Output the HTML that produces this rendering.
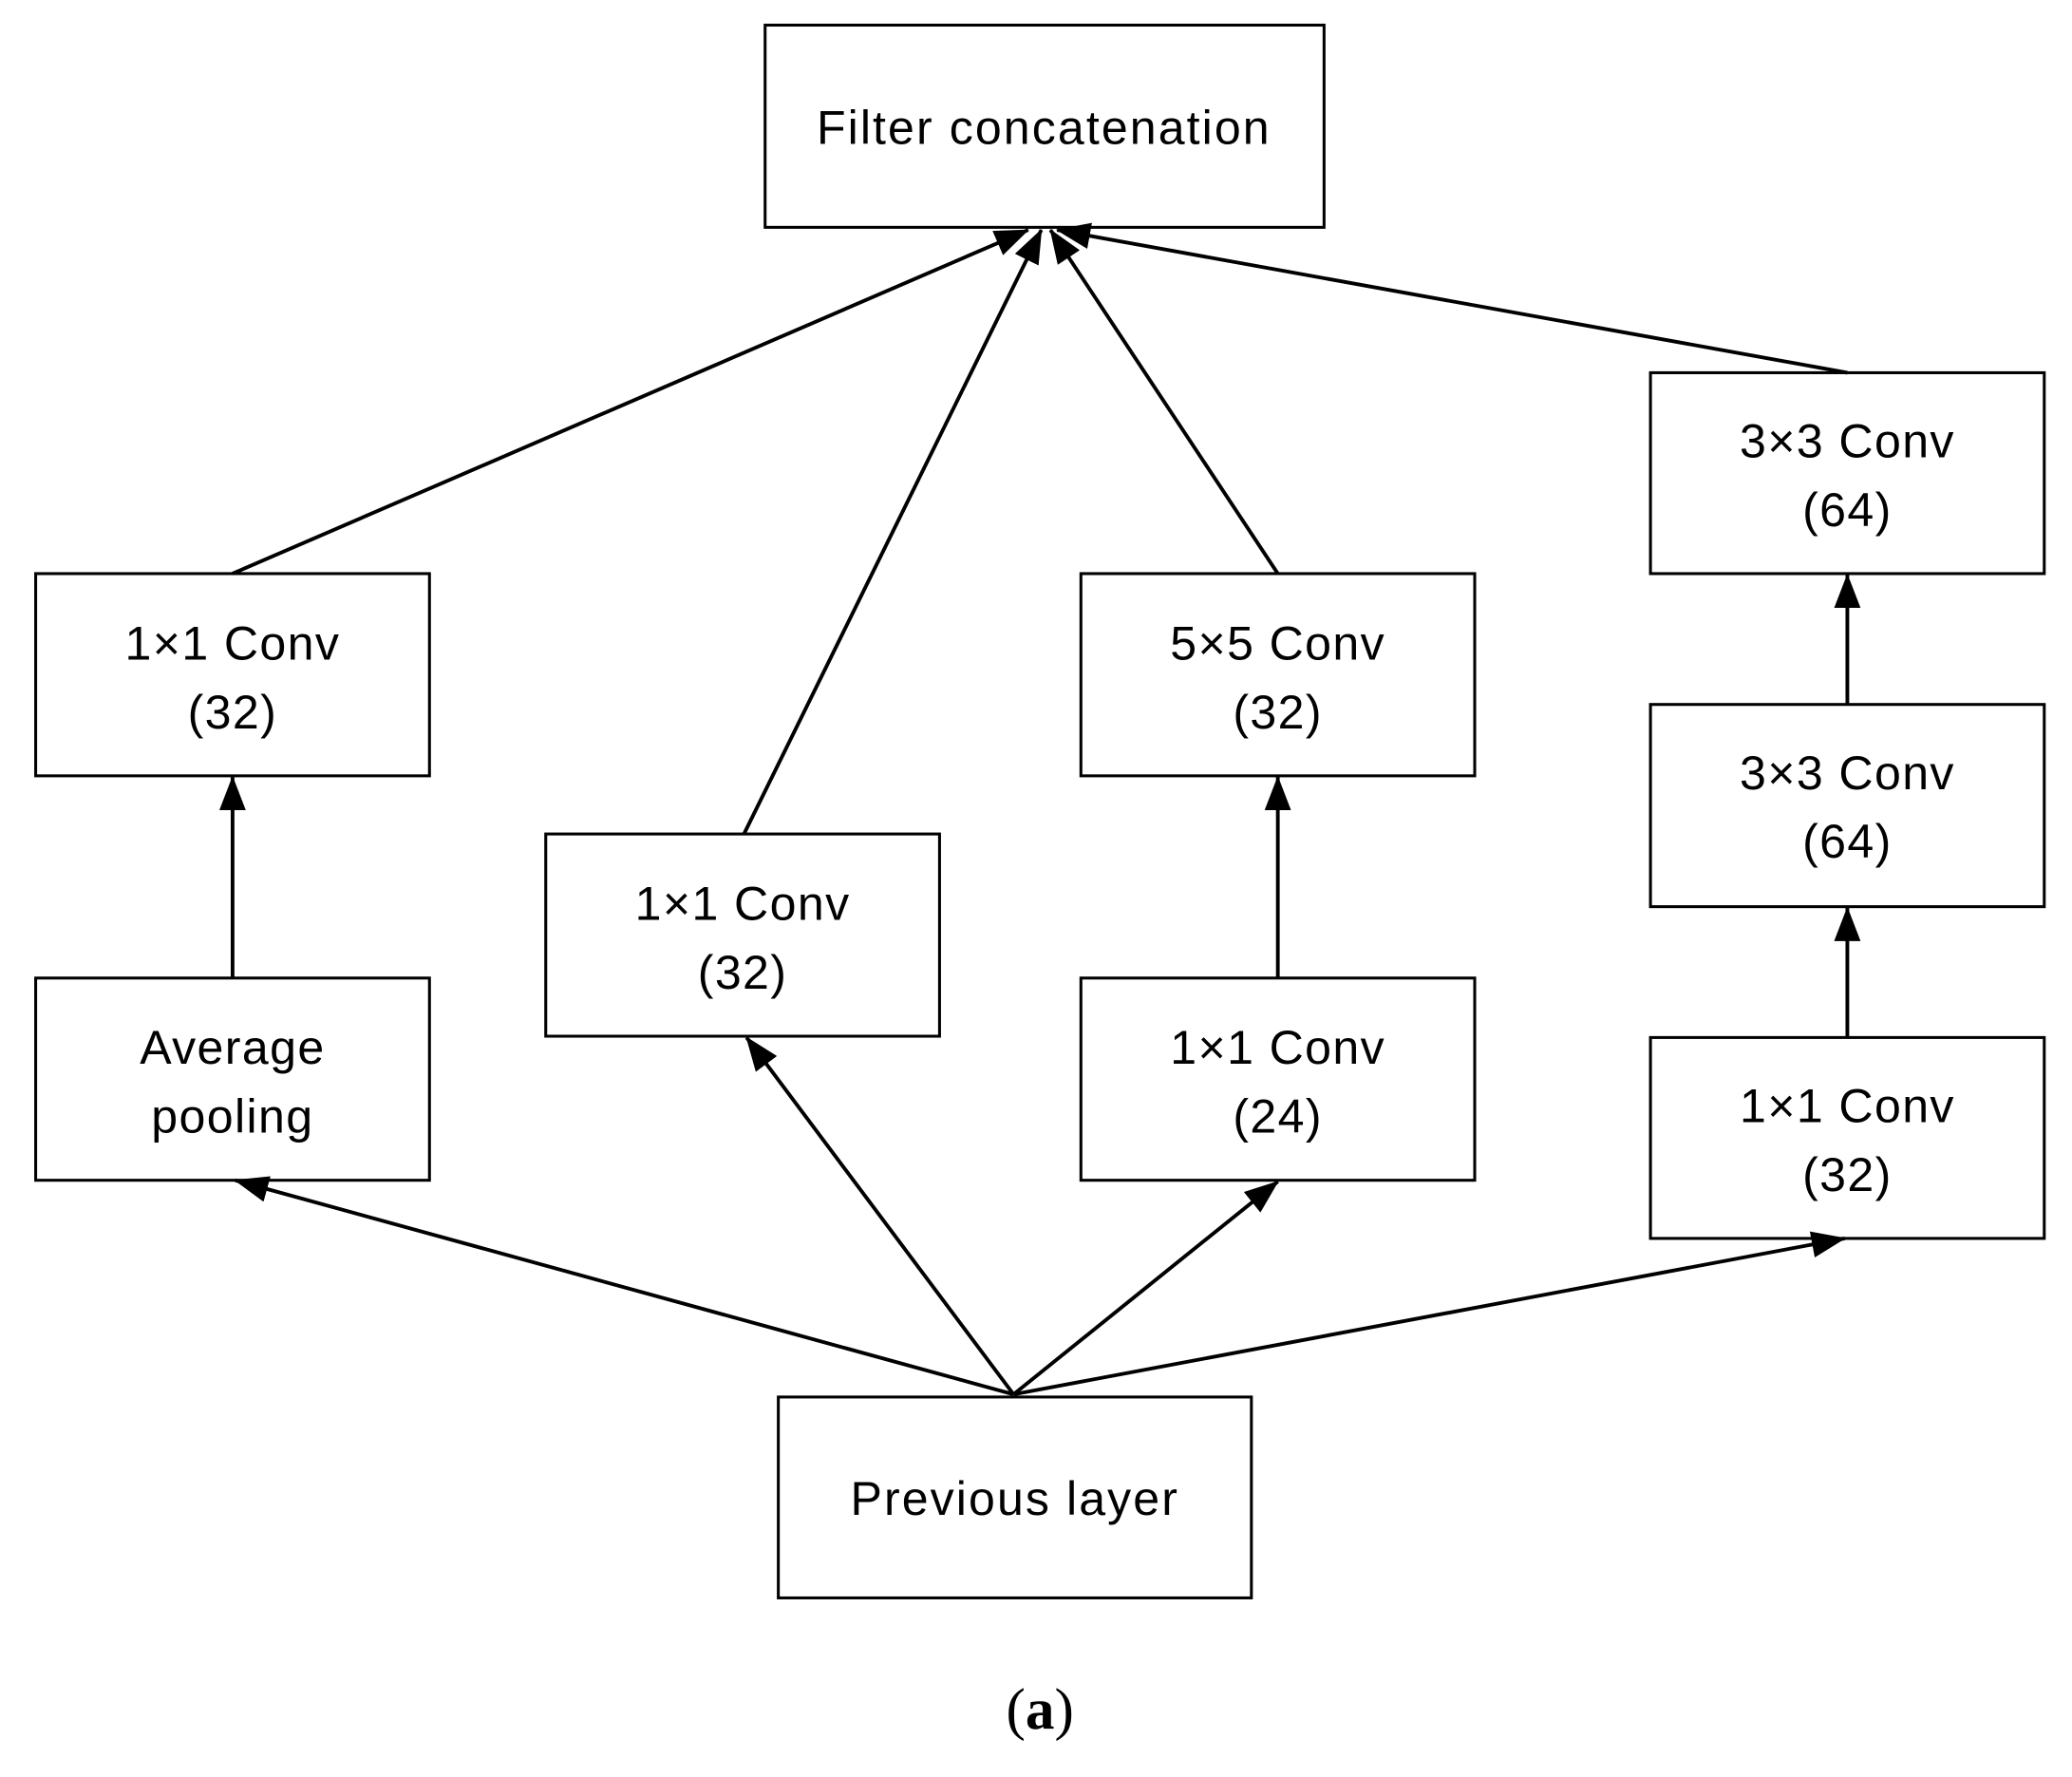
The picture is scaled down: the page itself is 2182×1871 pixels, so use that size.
<!DOCTYPE html>
<html><head><style>html,body{margin:0;padding:0;background:#fff}svg{display:block}</style></head>
<body>
<svg width="2182" height="1871" viewBox="0 0 1568 1344.5" xmlns="http://www.w3.org/2000/svg">
<defs>
<marker id="a" markerWidth="26" markerHeight="20" refX="25" refY="10" orient="auto" markerUnits="userSpaceOnUse">
<path d="M0,0 L26,10 L0,20 Z" fill="#000"/>
</marker>
</defs>
<g fill="#fff" stroke="#000" stroke-width="2.2">
<rect x="579" y="19" width="423" height="153"/>
<rect x="27" y="434" width="298" height="153"/>
<rect x="27" y="740" width="298" height="153"/>
<rect x="413" y="631" width="298" height="153"/>
<rect x="818" y="434" width="298" height="153"/>
<rect x="818" y="740" width="298" height="153"/>
<rect x="1249" y="282" width="298" height="152"/>
<rect x="1249" y="533" width="298" height="153"/>
<rect x="1249" y="785" width="298" height="152"/>
<rect x="589" y="1057" width="358" height="152"/>
</g>
<g stroke="#000" stroke-width="2.8" fill="none" marker-end="url(#a)">
<line x1="176" y1="434" x2="778" y2="174"/>
<line x1="563" y1="631" x2="788" y2="174"/>
<line x1="967" y1="434" x2="795" y2="174"/>
<line x1="1398" y1="282" x2="800" y2="174"/>
<line x1="767" y1="1055" x2="178" y2="893"/>
<line x1="767" y1="1055" x2="565" y2="785"/>
<line x1="767" y1="1055" x2="967" y2="894"/>
<line x1="767" y1="1055" x2="1396" y2="937"/>
<line x1="176" y1="740" x2="176" y2="588"/>
<line x1="967" y1="740" x2="967" y2="588"/>
<line x1="1398" y1="785" x2="1398" y2="687"/>
<line x1="1398" y1="533" x2="1398" y2="435"/>
</g>
<g font-family="Liberation Sans, sans-serif" font-size="36" letter-spacing="1" text-anchor="middle" fill="#000">
<text x="790" y="109" letter-spacing="1.5">Filter concatenation</text>
<text x="176" y="499">1×1 Conv</text><text x="176" y="551">(32)</text>
<text x="176" y="805">Average</text><text x="176" y="857">pooling</text>
<text x="562" y="696">1×1 Conv</text><text x="562" y="748">(32)</text>
<text x="967" y="499">5×5 Conv</text><text x="967" y="551">(32)</text>
<text x="967" y="805">1×1 Conv</text><text x="967" y="857">(24)</text>
<text x="1398" y="346">3×3 Conv</text><text x="1398" y="398">(64)</text>
<text x="1398" y="597">3×3 Conv</text><text x="1398" y="649">(64)</text>
<text x="1398" y="849">1×1 Conv</text><text x="1398" y="901">(32)</text>
<text x="768" y="1146" letter-spacing="1.5">Previous layer</text>
</g>
<text x="787" y="1308" font-family="Liberation Serif, serif" font-size="44" text-anchor="middle">(<tspan font-weight="bold">a</tspan>)</text>
</svg>
</body></html>
